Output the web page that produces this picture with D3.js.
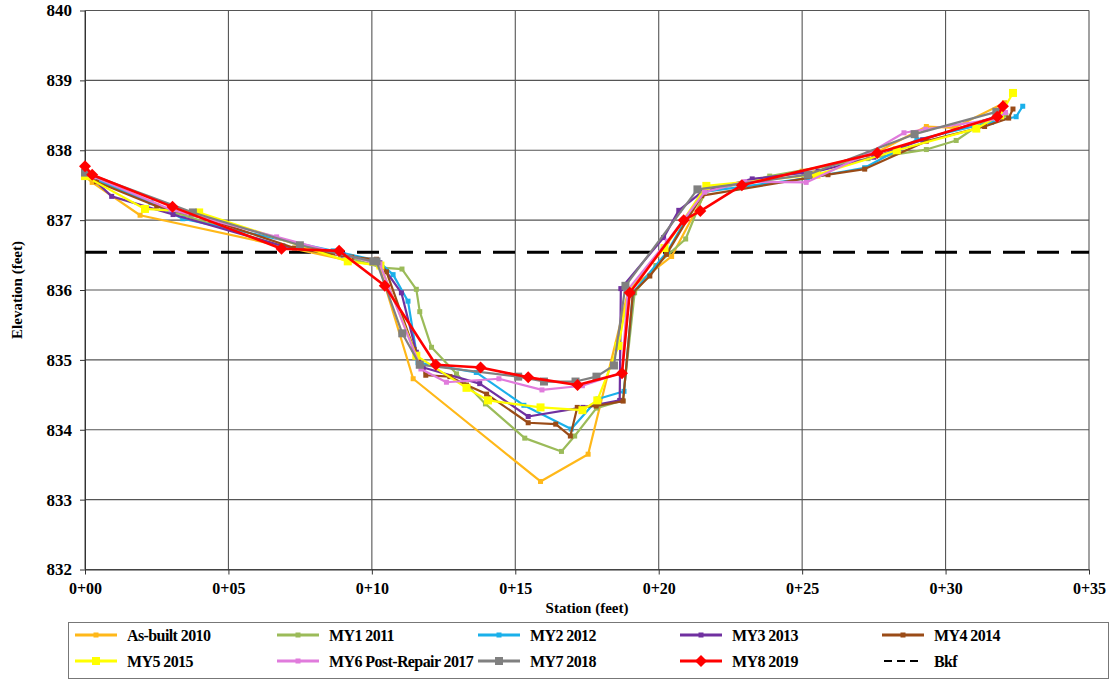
<!DOCTYPE html>
<html>
<head>
<meta charset="utf-8">
<script src="https://cdn.jsdelivr.net/npm/d3@7"></script>
<style>
  body { margin: 0; background: #fff; }
  text { font-family: "Liberation Serif", "Times New Roman", serif; font-weight: bold; fill: #000; }
</style>
</head>
<body>
<div id="chart"></div>
<script>
// station (ft), elevation (ft) pairs
var asBuilt2010 = [[0,837.63],[0.25,837.54],[1.92,837.07],[9.2,836.42],[10.25,836.35],[11.44,834.73],[15.88,833.26],[17.54,833.65],[18.95,836.0],[20.45,836.48],[21.7,837.45],[25,837.7],[27.5,837.95],[29.33,838.34],[30.3,838.32],[32.06,838.68]];
var my1_2011 = [[0,837.7],[0.3,837.6],[3.2,837.1],[6.9,836.62],[8.9,836.5],[10.35,836.32],[11.05,836.3],[11.55,836.01],[11.67,835.69],[12.08,835.18],[12.95,834.8],[13.96,834.37],[15.33,833.88],[16.61,833.69],[17.07,833.91],[17.83,834.31],[18.75,834.42],[19.16,835.96],[19.9,836.35],[20.94,836.73],[21.6,837.4],[23.87,837.63],[27.3,837.88],[29.33,838.01],[30.37,838.14],[31.3,838.4],[32.1,838.5]];
var my2_2012 = [[0,837.72],[0.3,837.6],[2.3,837.25],[3.41,837.02],[8.65,836.56],[10.2,836.42],[10.74,836.22],[11.26,835.84],[11.61,834.96],[13.64,834.82],[15.3,834.35],[16.95,834.01],[17.88,834.44],[18.79,834.55],[19.1,835.96],[20.3,836.55],[21.5,837.4],[25.2,837.6],[27.18,837.75],[29,838.15],[31.6,838.4],[32.46,838.48],[32.69,838.63]];
var my3_2013 = [[0,837.7],[0.93,837.34],[3.07,837.08],[6.9,836.63],[9,836.5],[10.28,836.39],[11.03,835.96],[11.55,835.11],[11.79,834.89],[13.76,834.66],[15.45,834.19],[17.36,834.32],[18.64,834.42],[18.68,836.02],[20.17,836.75],[20.7,837.14],[21.5,837.4],[23.26,837.59],[25.55,837.7],[27.5,837.9],[29.2,838.15],[31.9,838.5]];
var my4_2014 = [[0,837.65],[0.4,837.55],[2.5,837.2],[4.4,837.0],[7.3,836.6],[9.3,836.47],[10.16,836.44],[10.51,836.26],[11.47,835.15],[11.88,834.78],[12.72,834.76],[13.3,834.64],[14.0,834.51],[15.45,834.1],[16.41,834.08],[16.92,833.91],[17.16,834.32],[17.82,834.34],[18.76,834.41],[19.1,835.96],[19.69,836.2],[20.27,836.51],[21.5,837.35],[25.9,837.65],[27.18,837.73],[29.33,838.13],[31.36,838.34],[32.2,838.46],[32.35,838.59]];
var my5_2015 = [[0,837.63],[2.09,837.16],[3.98,837.11],[9.16,836.41],[10.3,836.35],[11.55,835.06],[13.3,834.6],[14.05,834.42],[15.88,834.32],[17.34,834.28],[17.86,834.42],[18.6,835.2],[18.95,836.0],[20.2,836.6],[21.66,837.49],[25.5,837.65],[28.3,838.0],[31.07,838.31],[31.9,838.5],[32.35,838.82]];
var my6_2017 = [[0,837.72],[0.3,837.62],[3.0,837.15],[6.68,836.76],[8.8,836.53],[10.28,836.37],[11.71,834.87],[12.6,834.68],[14.43,834.73],[15.93,834.57],[17.34,834.63],[18.72,834.82],[18.92,836.0],[20.3,836.7],[21.6,837.4],[23,837.55],[25.14,837.54],[27.3,837.95],[28.55,838.25],[29.3,838.3],[31.8,838.45],[32.09,838.54]];
var my7_2018 = [[0,837.68],[3.76,837.11],[7.49,836.64],[10.05,836.41],[10.16,836.41],[11.06,835.38],[11.67,834.93],[15.1,834.76],[16.0,834.69],[17.1,834.69],[17.83,834.76],[18.44,834.92],[18.84,836.06],[21.35,837.44],[25.2,837.65],[28.92,838.23],[31.77,838.55]];
var my8_2019 = [[0,837.77],[0.25,837.65],[3.05,837.19],[6.85,836.59],[8.86,836.56],[10.45,836.06],[12.23,834.93],[13.79,834.89],[15.45,834.75],[17.17,834.64],[18.72,834.81],[18.99,835.96],[20.87,837.0],[21.45,837.13],[22.9,837.5],[27.62,837.96],[31.8,838.48],[32.0,838.63]];
var bkfElev = 836.54;

var xTicks = [0, 5, 10, 15, 20, 25, 30, 35];
var xTickLabels = ["0+00", "0+05", "0+10", "0+15", "0+20", "0+25", "0+30", "0+35"];
var yTicks = [832, 833, 834, 835, 836, 837, 838, 839, 840];

var series = [
  { name: "As-built 2010", data: asBuilt2010, color: "#FFB819", marker: "dot" },
  { name: "MY1 2011", data: my1_2011, color: "#9BBB59", marker: "dot" },
  { name: "MY2 2012", data: my2_2012, color: "#1AB0EA", marker: "dot" },
  { name: "MY3 2013", data: my3_2013, color: "#7030A0", marker: "dot" },
  { name: "MY4 2014", data: my4_2014, color: "#9A4B17", marker: "dot" },
  { name: "MY5 2015", data: my5_2015, color: "#FFFF00", marker: "square" },
  { name: "MY6 Post-Repair 2017", data: my6_2017, color: "#E07BDC", marker: "dot" },
  { name: "MY7 2018", data: my7_2018, color: "#808080", marker: "square" },
  { name: "MY8 2019", data: my8_2019, color: "#FF0000", marker: "diamond" }
];

var width = 1120, height = 681;
var svg = d3.select("#chart").append("svg")
  .attr("width", width)
  .attr("height", height);

var x = d3.scaleLinear().domain([0, 35]).range([85, 1089]);
var y = d3.scaleLinear().domain([832, 840]).range([569.5, 10.5]);

// grid
var grid = svg.append("g").attr("stroke", "#555").attr("stroke-width", 1.1);
xTicks.forEach(function (t) {
  grid.append("line").attr("x1", x(t)).attr("x2", x(t)).attr("y1", y(840)).attr("y2", y(832));
});
yTicks.forEach(function (t) {
  grid.append("line").attr("x1", x(0)).attr("x2", x(35)).attr("y1", y(t)).attr("y2", y(t));
});

// axes
var xAxis = d3.axisBottom(x).tickValues(xTicks)
  .tickFormat(function (d, i) { return xTickLabels[i]; })
  .tickSize(5).tickSizeOuter(0);
var gx = svg.append("g").attr("transform", "translate(0," + y(832) + ")").call(xAxis);
gx.select(".domain").attr("stroke", "#333");
gx.selectAll(".tick line").attr("stroke", "#333");
gx.selectAll("text").attr("dy", "1.05em").style("font-size", "16px").style("font-family", "Liberation Serif").style("font-weight", "bold");

var yAxis = d3.axisLeft(y).tickValues(yTicks).tickFormat(d3.format("d"))
  .tickSize(5).tickSizeOuter(0);
var gy = svg.append("g").attr("transform", "translate(" + x(0) + ",0)").call(yAxis);
gy.select(".domain").attr("stroke", "#333");
gy.selectAll(".tick line").attr("stroke", "#333");
gy.selectAll("text").attr("x", -13).style("font-size", "17px").style("font-family", "Liberation Serif").style("font-weight", "bold");

svg.append("text").attr("x", 587).attr("y", 613).attr("text-anchor", "middle")
  .style("font-size", "15px").text("Station (feet)");
svg.append("text").attr("transform", "translate(22,290) rotate(-90)").attr("text-anchor", "middle")
  .style("font-size", "15px").text("Elevation (feet)");

// bankfull
svg.append("line")
  .attr("x1", x(0)).attr("x2", x(35))
  .attr("y1", y(bkfElev)).attr("y2", y(bkfElev))
  .attr("stroke", "#000").attr("stroke-width", 3).attr("stroke-dasharray", "22,12");

var line = d3.line().x(function (d) { return x(d[0]); }).y(function (d) { return y(d[1]); });

function drawMarker(g, s, px, py) {
  if (s.marker === "square") {
    g.append("rect").attr("x", px - 4).attr("y", py - 4).attr("width", 8).attr("height", 8).attr("fill", s.color);
  } else if (s.marker === "diamond") {
    g.append("path").attr("d", "M" + px + "," + (py - 6) + "L" + (px + 6) + "," + py + "L" + px + "," + (py + 6) + "L" + (px - 6) + "," + py + "Z").attr("fill", s.color);
  } else {
    g.append("rect").attr("x", px - 2.5).attr("y", py - 2.5).attr("width", 5).attr("height", 5).attr("fill", s.color);
  }
}

series.forEach(function (s) {
  var g = svg.append("g");
  g.append("path").datum(s.data).attr("d", line)
    .attr("fill", "none").attr("stroke", s.color)
    .attr("stroke-width", s.marker === "diamond" ? 2.6 : 2.2)
    .attr("stroke-linejoin", "round");
  s.data.forEach(function (d) { drawMarker(g, s, x(d[0]), y(d[1])); });
});

// legend
var legend = svg.append("g");
legend.append("rect").attr("x", 68.5).attr("y", 622.5).attr("width", 1040).attr("height", 56)
  .attr("fill", "#fff").attr("stroke", "#777").attr("stroke-width", 1);
var legendItems = series.map(function (s) { return s; }).concat([{ name: "Bkf", color: "#000", marker: "dash" }]);
var colX = [75, 277, 478, 680, 882];
var rowY = [635, 661];
legendItems.forEach(function (s, i) {
  var cx = colX[i % 5], cy = rowY[Math.floor(i / 5)];
  var g = legend.append("g");
  if (s.marker === "dash") {
    g.append("line").attr("x1", cx + 2).attr("x2", cx + 40).attr("y1", cy).attr("y2", cy)
      .attr("stroke", "#000").attr("stroke-width", 2).attr("stroke-dasharray", "8,5");
  } else {
    g.append("line").attr("x1", cx).attr("x2", cx + 42).attr("y1", cy).attr("y2", cy)
      .attr("stroke", s.color).attr("stroke-width", 3);
    drawMarker(g, s, cx + 21, cy);
  }
  g.append("text").attr("x", cx + 52).attr("y", cy + 5.5)
    .style("font-size", "16px").style("letter-spacing", "-0.6px").text(s.name);
});
</script>
</body>
</html>
